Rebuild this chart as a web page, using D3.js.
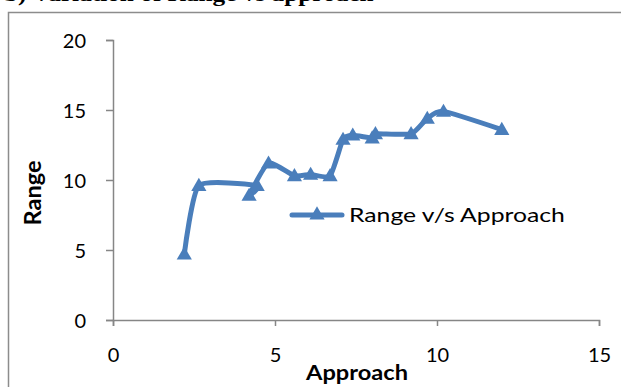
<!DOCTYPE html>
<html><head><meta charset="utf-8">
<script src="https://cdn.jsdelivr.net/npm/d3@7"></script>
<style>html,body{margin:0;padding:0;background:#fff;}svg{display:block;}</style>
</head><body>
<script>
const approach = [2.2, 2.65, 4.45, 4.2, 4.8, 5.6, 6.1, 6.7, 7.1, 7.4, 8.0, 8.1, 9.2, 9.7, 10.2, 12.0];
const range    = [4.7, 9.6, 9.6, 8.9, 11.2, 10.3, 10.4, 10.3, 12.9, 13.2, 13.0, 13.3, 13.3, 14.4, 14.9, 13.6];
const xTicks = [0, 5, 10, 15];
const yTicks = [0, 5, 10, 15, 20];
const seriesName = "Range v/s Approach";
const xTitle = "Approach", yTitle = "Range";
const topTitle = "b)   Variation of Range vs approach";

const W = 626, H = 387;
const svg = d3.select("body").append("svg").attr("width", W).attr("height", H);
const font = "Lato, 'Open Sans', sans-serif";
const blue = "#4a7ebb", axisCol = "#868686";

function fitWidth(sel, target, ax) {
  const w = sel.node().getComputedTextLength();
  const s = target / w;
  sel.attr("transform", `translate(${ax},0) scale(${s},1) translate(${-ax},0)`);
}

// cut-off title & frame
const tt = svg.append("text").attr("x", 4).attr("y", 0.5).attr("font-family", "'Liberation Serif', serif")
  .attr("font-weight", "bold").attr("font-size", 22).attr("fill", "#000").text(topTitle);
fitWidth(tt, 370, 4);
svg.append("path").attr("d", "M8.5,387 V12.5 H621").attr("fill", "none").attr("stroke", "#8c8c8c").attr("stroke-width", 1.5);

const x = d3.scaleLinear().domain([0, 15]).range([113, 599]);
const y = d3.scaleLinear().domain([0, 20]).range([320, 40]);

const xAxis = svg.append("g").attr("transform", "translate(0,320)")
  .call(d3.axisBottom(x).tickValues(xTicks).tickSize(6).tickPadding(22));
const yAxis = svg.append("g").attr("transform", "translate(113,0)")
  .call(d3.axisLeft(y).tickValues(yTicks).tickSize(7).tickPadding(20));
[xAxis, yAxis].forEach(g => {
  g.selectAll("path, line").attr("stroke", axisCol).attr("stroke-width", 1.5);
  g.selectAll("text").attr("font-family", font).attr("font-size", 20).attr("fill", "#000");
});
yAxis.selectAll("text").attr("dy", "0.36em");

// axis titles
const xt = svg.append("text").attr("x", 357).attr("y", 380).attr("text-anchor", "middle")
  .attr("font-family", font).attr("font-weight", "bold").attr("font-size", 20).text(xTitle);
fitWidth(xt, 102, 357);
svg.append("text").attr("transform", "translate(41,193) rotate(-90)").attr("text-anchor", "middle")
  .attr("font-family", font).attr("font-weight", "bold").attr("font-size", 22).attr("textLength", 65)
  .attr("lengthAdjust", "spacingAndGlyphs").text(yTitle);

// series
const pts = approach.map((a, i) => [a, range[i]]);
const line = d3.line().x(d => x(d[0])).y(d => y(d[1])).curve(d3.curveCardinal.tension(0.45));
svg.append("path").datum(pts).attr("d", line).attr("fill", "none")
  .attr("stroke", blue).attr("stroke-width", 5).attr("stroke-linejoin", "round").attr("stroke-linecap", "round");
const tri = d3.symbol().type(d3.symbolTriangle).size(100);
svg.selectAll(".m").data(pts).join("path").attr("class", "m")
  .attr("transform", d => `translate(${x(d[0])},${y(d[1]) + 1})`).attr("d", tri).attr("fill", blue);

// legend
svg.append("line").attr("x1", 292).attr("x2", 342).attr("y1", 215).attr("y2", 215)
  .attr("stroke", blue).attr("stroke-width", 5).attr("stroke-linecap", "round");
svg.append("path").attr("transform", "translate(317,215)").attr("d", tri).attr("fill", blue);
const lt = svg.append("text").attr("x", 349).attr("y", 215).attr("dy", "0.35em")
  .attr("font-family", font).attr("font-size", 20).attr("fill", "#000").text(seriesName);
fitWidth(lt, 216, 349);
</script>
</body></html>
